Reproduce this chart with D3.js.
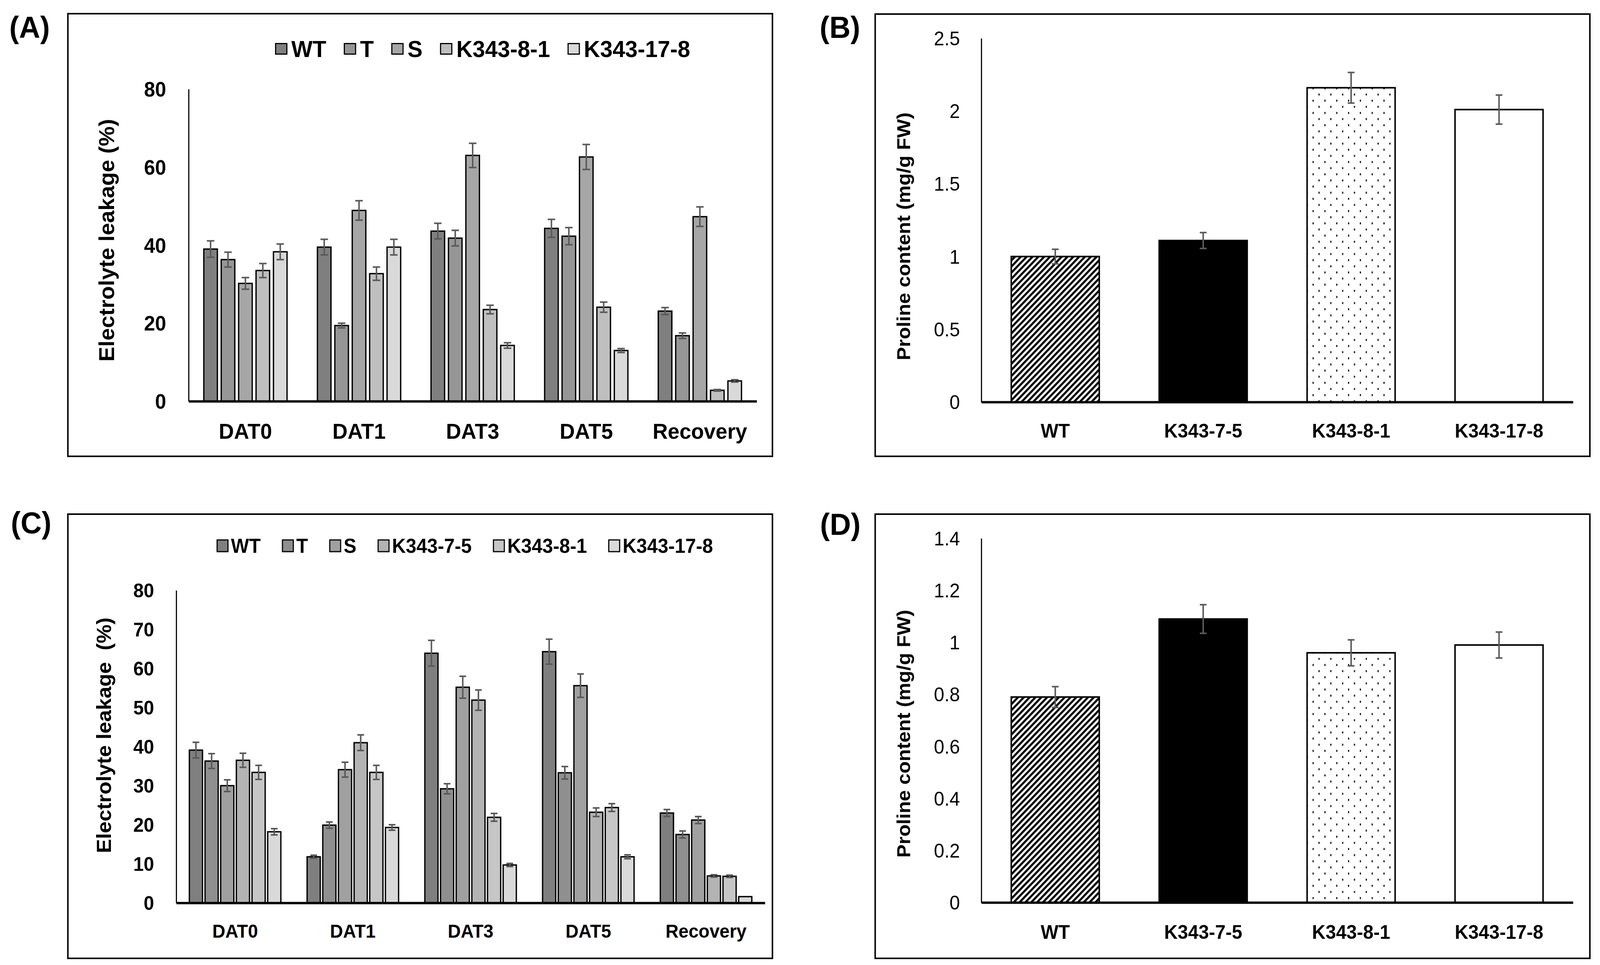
<!DOCTYPE html>
<html>
<head>
<meta charset="utf-8">
<script src="https://cdn.jsdelivr.net/npm/d3@7"></script>
<style>
html, body { margin: 0; padding: 0; width: 100%; height: 100%; overflow: hidden; background: #fff; }
#vis { width: 100vw; height: 100vh; }
svg { display: block; }
text { font-family: "Liberation Sans", Arial, sans-serif; }
</style>
</head>
<body>
<div id="vis"></div>
<script>
// ---- data ----
var days = ["DAT0", "DAT1", "DAT3", "DAT5", "Recovery"];

// (A) electrolyte leakage, one row per line
var linesA = ["WT", "T", "S", "K343-8-1", "K343-17-8"];
var leakA = [
  [39.0, 39.5, 43.6, 44.3, 23.1],
  [36.3, 19.4, 41.8, 42.3, 16.8],
  [30.2, 48.9, 63.0, 62.6, 47.3],
  [33.5, 32.7, 23.5, 24.1, 2.8],
  [38.3, 39.5, 14.3, 13.0, 5.2]
];
var leakAErr = [
  [2.1, 2.0, 2.0, 2.3, 0.9],
  [1.9, 0.6, 2.0, 2.2, 0.7],
  [1.5, 2.5, 3.1, 3.2, 2.5],
  [1.8, 1.7, 1.1, 1.3, 0.2],
  [2.0, 2.0, 0.7, 0.5, 0.3]
];
var ticksA = [0, 20, 40, 60, 80];

// (C) electrolyte leakage
var linesC = ["WT", "T", "S", "K343-7-5", "K343-8-1", "K343-17-8"];
var leakC = [
  [39.1, 11.8, 63.9, 64.3, 23.0],
  [36.3, 19.9, 29.2, 33.3, 17.5],
  [30.0, 34.1, 55.2, 55.6, 21.2],
  [36.5, 41.0, 51.9, 23.2, 6.9],
  [33.4, 33.4, 21.9, 24.4, 6.8],
  [18.2, 19.3, 9.7, 11.8, 1.6]
];
var leakCErr = [
  [2.0, 0.4, 3.3, 3.2, 0.9],
  [1.9, 0.8, 1.3, 1.6, 0.9],
  [1.5, 1.9, 2.8, 3.0, 0.9],
  [1.8, 2.0, 2.6, 1.1, 0.3],
  [1.8, 1.8, 1.0, 1.0, 0.3],
  [0.8, 0.7, 0.4, 0.5, 0]
];
var ticksC = [0, 10, 20, 30, 40, 50, 60, 70, 80];

// (B) and (D) proline content
var lines4 = ["WT", "K343-7-5", "K343-8-1", "K343-17-8"];
var prolineB = [1.00, 1.11, 2.16, 2.01];
var prolineBErr = [0.05, 0.055, 0.105, 0.10];
var ticksB = [0, 0.5, 1, 1.5, 2, 2.5];
var prolineD = [0.79, 1.09, 0.96, 0.99];
var prolineDErr = [0.04, 0.055, 0.05, 0.05];
var ticksD = [0, 0.2, 0.4, 0.6, 0.8, 1, 1.2, 1.4];

// styles
var greysA = ["#7f7f7f", "#969696", "#a6a6a6", "#bfbfbf", "#d9d9d9"];
var greysC = ["#7f7f7f", "#8f8f8f", "#a0a0a0", "#b3b3b3", "#c6c6c6", "#d9d9d9"];
var fills4 = ["url(#hatch)", "#000000", "url(#dots)", "#ffffff"];
var errColor = "#5a5a5a";

var W = 4267, H = 2470;

// drawn in a fixed 4267x2470 frame, stretched to fill the viewport
var svg = d3.select("#vis").append("svg")
  .attr("viewBox", "0 0 " + W + " " + H)
  .attr("preserveAspectRatio", "none")
  .attr("width", "100%")
  .attr("height", "100%");

svg.append("rect").attr("width", W).attr("height", H).attr("fill", "#fff");

// patterns
var defs = svg.append("defs");
var hatch = defs.append("pattern")
  .attr("id", "hatch")
  .attr("patternUnits", "userSpaceOnUse")
  .attr("width", 11).attr("height", 11)
  .attr("patternTransform", "rotate(45)");
hatch.append("rect").attr("width", 11).attr("height", 11).attr("fill", "#fff");
hatch.append("rect").attr("width", 5.5).attr("height", 11).attr("fill", "#000");

var dots = defs.append("pattern")
  .attr("id", "dots")
  .attr("patternUnits", "userSpaceOnUse")
  .attr("width", 31.5).attr("height", 31.4);
dots.append("rect").attr("width", 31.5).attr("height", 31.4).attr("fill", "#fff");
dots.append("rect").attr("x", 4).attr("y", 4).attr("width", 3).attr("height", 5).attr("fill", "#000");
dots.append("rect").attr("x", 19.75).attr("y", 19.7).attr("width", 3).attr("height", 5).attr("fill", "#000");

function panelBox(x, y, w, h, label, lx, ly) {
  svg.append("rect")
    .attr("x", x).attr("y", y)
    .attr("width", w).attr("height", h)
    .attr("fill", "none")
    .attr("stroke", "#000")
    .attr("stroke-width", 4);
  svg.append("text")
    .attr("x", lx).attr("y", ly)
    .attr("text-anchor", "middle")
    .attr("font-size", 78)
    .attr("font-weight", "bold")
    .text(label);
}

function yTitle(x, y, size, txt) {
  svg.append("text")
    .attr("transform", "translate(" + x + "," + y + ") rotate(-90)")
    .attr("text-anchor", "middle")
    .attr("dy", "0.35em")
    .attr("font-size", size)
    .attr("font-weight", "bold")
    .style("white-space", "pre")
    .text(txt);
}

function errorBars(g, data, cap) {
  g.selectAll(".err")
    .data(data.filter(function(d) { return d.e > 0; }))
    .enter().append("path")
      .attr("class", "err")
      .attr("fill", "none")
      .attr("stroke", errColor)
      .attr("stroke-width", 4)
      .attr("d", function(d) {
        return "M" + (d.cx - cap/2) + "," + d.lo + "H" + (d.cx + cap/2) +
               "M" + d.cx + "," + d.lo + "V" + d.hi +
               "M" + (d.cx - cap/2) + "," + d.hi + "H" + (d.cx + cap/2);
      });
}

function styleAxes(gy, gx, tickSize, tickWeight, catSize, catOffset) {
  gy.select(".domain").attr("stroke", "#000").attr("stroke-width", 3);
  gy.selectAll("text")
    .attr("font-size", tickSize)
    .attr("font-weight", tickWeight)
    .attr("fill", "#000")
    .attr("font-family", null)
    .attr("dy", "0.35em");
  gx.select(".domain").attr("stroke", "#000").attr("stroke-width", 6);
  gx.selectAll("text")
    .attr("font-size", catSize)
    .attr("font-weight", "bold")
    .attr("fill", "#000")
    .attr("font-family", null)
    .attr("y", catOffset)
    .attr("dy", "0.35em");
  gy.attr("font-family", null);
  gx.attr("font-family", null);
}

// grouped bar chart for (A) and (C)
function groupedChart(o) {
  var g = svg.append("g");
  var x0 = d3.scaleBand().domain(days).range([o.left, o.right]).padding(0);
  var x1 = d3.scaleBand().domain(o.keys)
    .range([o.groupPad, x0.bandwidth() - o.groupPad])
    .paddingInner(o.innerPad).paddingOuter(0);
  var y = d3.scaleLinear().domain([0, d3.max(o.ticks)]).range([o.y0, o.yTop]);

  var bars = [];
  o.keys.forEach(function(k, i) {
    days.forEach(function(day, j) {
      var v = o.values[i][j], e = o.errs[i][j];
      bars.push({
        key: k, i: i, day: day, v: v, e: e,
        x: x0(day) + x1(k),
        cx: x0(day) + x1(k) + x1.bandwidth()/2,
        lo: y(v - e), hi: y(v + e)
      });
    });
  });

  g.selectAll(".bar")
    .data(bars)
    .enter().append("rect")
      .attr("class", "bar")
      .attr("x", function(d) { return d.x; })
      .attr("y", function(d) { return y(d.v); })
      .attr("width", x1.bandwidth())
      .attr("height", function(d) { return y(0) - y(d.v); })
      .attr("fill", function(d) { return o.colors[d.i]; })
      .attr("stroke", "#000")
      .attr("stroke-width", 3.5);

  errorBars(g, bars, o.cap);

  var gy = g.append("g")
    .attr("transform", "translate(" + o.left + ",0)")
    .call(d3.axisLeft(y).tickValues(o.ticks).tickSize(0).tickPadding(o.tickPad).tickFormat(d3.format("")));
  var gx = g.append("g")
    .attr("transform", "translate(0," + o.y0 + ")")
    .call(d3.axisBottom(x0).tickSize(0));
  styleAxes(gy, gx, o.tickSize, "bold", o.catSize, o.catOffset);

  // legend across the top
  var lx = o.legendX;
  o.keys.forEach(function(k, i) {
    var item = svg.append("g").attr("transform", "translate(" + lx + "," + o.legendY + ")");
    item.append("rect")
      .attr("x", 0).attr("y", -o.swH/2)
      .attr("width", o.swW).attr("height", o.swH)
      .attr("fill", o.colors[i])
      .attr("stroke", "#000")
      .attr("stroke-width", 3);
    var t = item.append("text")
      .attr("x", o.swW + o.swGap)
      .attr("dy", "0.35em")
      .attr("font-size", o.legendSize)
      .attr("font-weight", "bold")
      .text(k);
    lx += o.swW + o.swGap + t.node().getComputedTextLength() + o.itemGap;
  });
}

// simple bar chart for (B) and (D)
function proChart(o) {
  var g = svg.append("g");
  var x = d3.scaleBand().domain(lines4).range([o.left, o.right]).paddingInner(0.405).paddingOuter(0.2025);
  var y = d3.scaleLinear().domain([0, d3.max(o.ticks)]).range([o.y0, o.yTop]);

  var bars = lines4.map(function(k, i) {
    var v = o.values[i], e = o.errs[i];
    return { key: k, i: i, v: v, e: e, cx: x(k) + x.bandwidth()/2, lo: y(v - e), hi: y(v + e) };
  });

  g.selectAll(".bar")
    .data(bars)
    .enter().append("rect")
      .attr("class", "bar")
      .attr("x", function(d) { return x(d.key); })
      .attr("y", function(d) { return y(d.v); })
      .attr("width", x.bandwidth())
      .attr("height", function(d) { return y(0) - y(d.v); })
      .attr("fill", function(d) { return fills4[d.i]; })
      .attr("stroke", "#000")
      .attr("stroke-width", 4);

  errorBars(g, bars, 18);

  var gy = g.append("g")
    .attr("transform", "translate(" + o.left + ",0)")
    .call(d3.axisLeft(y).tickValues(o.ticks).tickSize(0).tickPadding(57).tickFormat(function(d) { return String(d); }));
  var gx = g.append("g")
    .attr("transform", "translate(0," + o.y0 + ")")
    .call(d3.axisBottom(x).tickSize(0));
  styleAxes(gy, gx, 50, "normal", 50, o.catOffset);
}

// (A)
panelBox(181, 35, 1879, 1133, "(A)", 79, 97);
groupedChart({
  keys: linesA, values: leakA, errs: leakAErr, colors: greysA, ticks: ticksA,
  left: 503, right: 2018, y0: 1027, yTop: 228,
  groupPad: 40.5, innerPad: 0.22, cap: 20,
  tickSize: 53, tickPad: 60, catSize: 56, catOffset: 76,
  legendX: 735, legendY: 125, swW: 30, swH: 27, swGap: 12, itemGap: 48, legendSize: 60
});
yTitle(284, 615, 57, "Electrolyte leakage (%)");

// (B)
panelBox(2334, 36, 1906, 1132, "(B)", 2240, 97);
proChart({ values: prolineB, errs: prolineBErr, ticks: ticksB, left: 2617, right: 4195, y0: 1029, yTop: 98, catOffset: 74 });
yTitle(2409, 605, 51, "Proline content (mg/g FW)");

// (C)
panelBox(181, 1316, 1879, 1137, "(C)", 83, 1365);
groupedChart({
  keys: linesC, values: leakC, errs: leakCErr, colors: greysC, ticks: ticksC,
  left: 470, right: 2040, y0: 2311, yTop: 1511,
  groupPad: 35, innerPad: 0.16, cap: 18,
  tickSize: 50, tickPad: 59, catSize: 48, catOffset: 72,
  legendX: 579, legendY: 1397, swW: 29, swH: 30, swGap: 8, itemGap: 58, legendSize: 51
});
yTitle(277, 1882, 54, "Electrolyte leakage  (%)");

// (D)
panelBox(2334, 1316, 1906, 1137, "(D)", 2241, 1369);
proChart({ values: prolineD, errs: prolineDErr, ticks: ticksD, left: 2617, right: 4195, y0: 2310, yTop: 1378, catOffset: 76 });
yTitle(2409, 1878, 51, "Proline content (mg/g FW)");
</script>
</body>
</html>
